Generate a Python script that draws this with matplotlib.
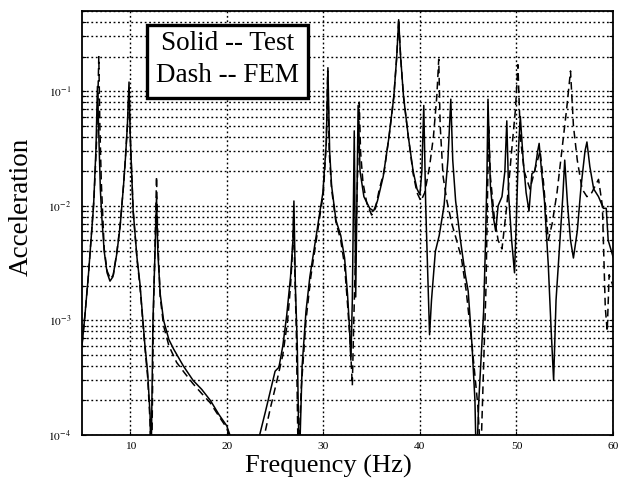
import math
import matplotlib
matplotlib.use("Agg")
import matplotlib.pyplot as plt
from matplotlib.patches import Rectangle
from matplotlib.ticker import LogLocator, FixedLocator, NullFormatter, FuncFormatter

# Measured (test) frequency response
test_freq = [5.0, 5.3, 5.65, 6.0, 6.2, 6.45, 6.6, 6.75, 6.9, 7.05, 7.3, 7.6, 7.9, 8.2,
             8.6, 8.95, 9.3, 9.5, 9.7, 9.87, 10.0, 10.3, 10.7, 11.0, 11.5, 11.8, 12.05,
             12.15, 12.35, 12.6, 12.72, 12.85, 13.1, 13.45, 14.0, 14.5, 15.5, 16.5, 17.4,
             18.3, 19.2, 20.0, 20.5, 21.5, 22.5, 23.0, 23.4, 24.0, 24.6, 25.0, 25.4, 25.8,
             26.2, 26.6, 26.85, 26.95, 27.1, 27.3, 27.5, 27.8, 28.2, 28.6, 29.25, 29.95,
             30.3, 30.47, 30.65, 30.85, 31.3, 31.8, 32.2, 32.5, 32.7, 32.85, 33.0, 33.2,
             33.35, 33.6, 33.8, 34.2, 34.8, 35.2, 35.6, 36.2, 36.8, 37.3, 37.6, 37.8,
             38.0, 38.3, 38.8, 39.3, 39.7, 40.0, 40.2, 40.4, 40.6, 40.85, 41.0, 41.2,
             41.6, 42.0, 42.5, 42.9, 43.2, 43.4, 43.7, 44.2, 44.7, 45.0, 45.4, 45.7,
             45.85, 46.1, 46.4, 46.6, 46.8, 46.95, 47.05, 47.3, 47.6, 47.85, 48.1, 48.5,
             48.8, 49.0, 49.2, 49.5, 49.8, 50.0, 50.2, 50.4, 50.7, 51.0, 51.3, 51.6,
             51.9, 52.2, 52.35, 52.6, 52.9, 53.3, 53.6, 53.85, 54.1, 54.5, 54.8, 55.0,
             55.3, 55.6, 55.9, 56.3, 56.7, 57.1, 57.3, 57.6, 58.0, 58.5, 59.0, 59.3,
             59.5, 60.0]
test_acc = [6e-4, 1.1e-3, 2.4e-3, 6e-3, 1.0e-2, 3.2e-2, 0.11, 0.04, 1.4e-2, 8e-3, 4e-3,
            2.6e-3, 2.2e-3, 2.4e-3, 3.8e-3, 6.6e-3, 1.5e-2, 2.6e-2, 0.05, 0.12, 0.04,
            9e-3, 3.5e-3, 2.1e-3, 6.3e-4, 3.5e-4, 1.5e-4, 5e-5, 1e-3, 5e-3, 0.012, 4e-3,
            1.7e-3, 1e-3, 6.8e-4, 5.6e-4, 4e-4, 3e-4, 2.5e-4, 2e-4, 1.5e-4, 1.2e-4,
            9e-5, 3e-5, 3e-5, 6e-5, 1e-4, 1.6e-4, 2.6e-4, 3.6e-4, 3.9e-4, 6e-4, 1.1e-3,
            2.4e-3, 5e-3, 0.011, 2e-3, 6e-4, 5e-5, 4e-4, 1.2e-3, 2.4e-3, 5.4e-3, 1.3e-2,
            3.5e-2, 0.16, 0.03, 1.5e-2, 7.5e-3, 5.5e-3, 3.5e-3, 1.7e-3, 8.8e-4, 4.5e-4,
            1.5e-3, 0.045, 1.6e-3, 0.075, 0.02, 0.012, 0.0095, 0.009, 0.011, 0.018, 0.04,
            0.09, 0.2, 0.42, 0.2, 0.09, 0.04, 0.02, 0.014, 0.0125, 0.02, 0.075, 0.01,
            2e-3, 7.5e-4, 1.5e-3, 4e-3, 5.5e-3, 0.01, 0.025, 0.085, 0.025, 0.011, 5e-3,
            2.5e-3, 1.8e-3, 6e-4, 2e-4, 5e-5, 2e-4, 6e-4, 1.2e-3, 5e-3, 0.02, 0.085,
            0.015, 8e-3, 6e-3, 0.01, 0.012, 0.02, 0.055, 0.012, 5e-3, 2.6e-3, 8e-3, 0.03,
            0.06, 0.025, 0.013, 9e-3, 0.019, 0.02, 0.03, 0.035, 0.02, 0.011, 3e-3, 8e-4,
            3e-4, 1.5e-3, 5e-3, 0.012, 0.025, 0.01, 5e-3, 3.5e-3, 6e-3, 0.015, 0.03,
            0.036, 0.022, 0.014, 0.012, 0.0095, 0.0095, 5e-3, 3.6e-3]

# Finite element model prediction
fem_freq = [5.0, 5.3, 5.65, 6.0, 6.25, 6.5, 6.65, 6.74, 6.85, 7.0, 7.3, 7.6, 7.95, 8.25,
            8.6, 8.95, 9.3, 9.5, 9.7, 9.88, 10.0, 10.3, 10.7, 11.0, 11.5, 11.8, 12.05,
            12.2, 12.4, 12.6, 12.72, 12.85, 13.1, 13.45, 14.0, 14.8, 15.6, 16.5, 17.4,
            18.3, 19.2, 20.0, 20.4, 21.5, 23.0, 23.9, 24.5, 25.2, 25.8, 26.3, 26.6, 26.8,
            26.92, 27.05, 27.2, 27.4, 27.7, 28.2, 28.7, 29.3, 30.0, 30.3, 30.45, 30.6,
            30.85, 31.3, 31.8, 32.2, 32.5, 32.8, 33.0, 33.15, 33.4, 33.6, 33.72, 33.85,
            34.1, 34.5, 35.0, 35.4, 35.8, 36.3, 36.8, 37.3, 37.6, 37.8, 38.0, 38.3, 38.8,
            39.3, 39.7, 40.1, 40.5, 41.0, 41.4, 41.75, 41.95, 42.1, 42.4, 42.8, 43.3,
            43.8, 44.3, 44.8, 45.4, 46.0, 46.3, 46.6, 46.85, 47.0, 47.12, 47.3, 47.7,
            48.1, 48.5, 49.0, 49.5, 49.9, 50.15, 50.4, 50.8, 51.4, 52.0, 52.45, 52.8,
            53.3, 53.7, 54.2, 54.7, 55.2, 55.6, 55.9, 56.3, 56.8, 57.3, 57.8, 58.5, 58.9,
            59.2, 59.4, 59.6, 60.0]
fem_acc = [6.2e-4, 1.1e-3, 2.4e-3, 6e-3, 1.2e-2, 3.5e-2, 0.09, 0.2, 0.05, 1.6e-2, 4.2e-3,
           2.7e-3, 2.3e-3, 2.5e-3, 3.9e-3, 6.8e-3, 1.5e-2, 2.6e-2, 0.05, 0.11, 0.04,
           9e-3, 3.4e-3, 2e-3, 6e-4, 3.2e-4, 1.3e-4, 4e-5, 1.2e-3, 6e-3, 0.018, 5e-3,
           1.6e-3, 9e-4, 6e-4, 4.3e-4, 3.5e-4, 2.8e-4, 2.3e-4, 1.9e-4, 1.45e-4, 1.15e-4,
           9e-5, 3e-5, 3e-5, 1e-4, 1.7e-4, 3e-4, 5e-4, 1e-3, 2e-3, 4e-3, 8e-3, 2.5e-3,
           8e-4, 5e-5, 2.5e-4, 1e-3, 2.4e-3, 5.2e-3, 1.3e-2, 3.5e-2, 0.15, 0.03, 1.4e-2,
           7.2e-3, 5e-3, 3e-3, 1.4e-3, 6e-4, 2.7e-4, 1e-3, 6e-3, 0.03, 0.08, 0.03, 0.016,
           0.0105, 0.0083, 0.0095, 0.014, 0.02, 0.04, 0.09, 0.2, 0.42, 0.2, 0.09, 0.04,
           0.019, 0.013, 0.011, 0.013, 0.022, 0.04, 0.09, 0.19, 0.05, 0.018, 0.011, 7e-3,
           5e-3, 3.5e-3, 1.8e-3, 6e-4, 1.8e-4, 6e-5, 4e-4, 2e-3, 0.012, 0.05, 0.018,
           8e-3, 5e-3, 4.2e-3, 0.01, 0.03, 0.07, 0.17, 0.04, 0.02, 0.014, 0.022, 0.03,
           0.016, 5e-3, 7e-3, 0.013, 0.03, 0.07, 0.15, 0.05, 0.025, 0.014, 0.012, 0.013,
           0.017, 0.01, 1.3e-3, 8e-4, 2.5e-3, 2e-3]

x_ticks = [10, 20, 30, 40, 50, 60]
legend_lines = ["Solid -- Test", "Dash -- FEM"]

plt.rcParams["font.family"] = ["Liberation Serif", "DejaVu Serif"]
plt.rcParams["mathtext.fontset"] = "stix"

W, H = 620, 478
fig = plt.figure(figsize=(W / 100, H / 100), dpi=100)
ax = fig.add_axes([82 / W, 1 - 435 / H, 531 / W, 424 / H])

ax.plot(test_freq, test_acc, color="black", lw=1.1)
ax.plot(fem_freq, fem_acc, color="black", lw=1.1, linestyle=(0, (5, 3)))

ax.set_yscale("log")
ax.set_xlim(5, 60)
ax.set_ylim(1e-4, 0.5)

ax.xaxis.set_major_locator(FixedLocator(x_ticks))
ax.yaxis.set_major_locator(LogLocator(base=10, numticks=10))
ax.yaxis.set_minor_locator(LogLocator(base=10, subs=range(2, 10), numticks=20))
ax.yaxis.set_minor_formatter(NullFormatter())
ax.yaxis.set_major_formatter(FuncFormatter(lambda v, p: r"$10^{%d}$" % round(math.log10(v))))

grid_style = dict(color="black", linestyle=(0, (1.3, 1.9)), linewidth=1.0)
ax.grid(True, which="major", axis="both", **grid_style)
ax.grid(True, which="minor", axis="y", **grid_style)

ax.tick_params(which="both", direction="in", labelsize=8.2, length=3, width=0.8,
               right=True, top=False)
ax.tick_params(axis="y", which="major", pad=8)
ax.tick_params(axis="x", which="major", pad=5)
for s in ax.spines.values():
    s.set_linewidth(1.3)

fig.text(328 / W, 1 - 466 / H, "Frequency (Hz)", ha="center", va="center", fontsize=19)
fig.text(21 / W, 1 - 207 / H, "Acceleration", ha="center", va="center",
         rotation=90, fontsize=19.5)

# Legend box drawn as a framed text panel in the upper left
bx0, bx1, by0, by1 = 147, 308, 25, 98
ax.add_patch(Rectangle(((bx0 - 82) / 531, (435 - by1) / 424), (bx1 - bx0) / 531,
                       (by1 - by0) / 424, transform=ax.transAxes, facecolor="white",
                       edgecolor="black", linewidth=2.4, zorder=5))
for line, yc in zip(legend_lines, [44, 75]):
    ax.text((228 - 82) / 531, (435 - yc) / 424, line, transform=ax.transAxes,
            ha="center", va="center", fontsize=19.5, zorder=6)

fig.savefig("out.png", dpi=100)
